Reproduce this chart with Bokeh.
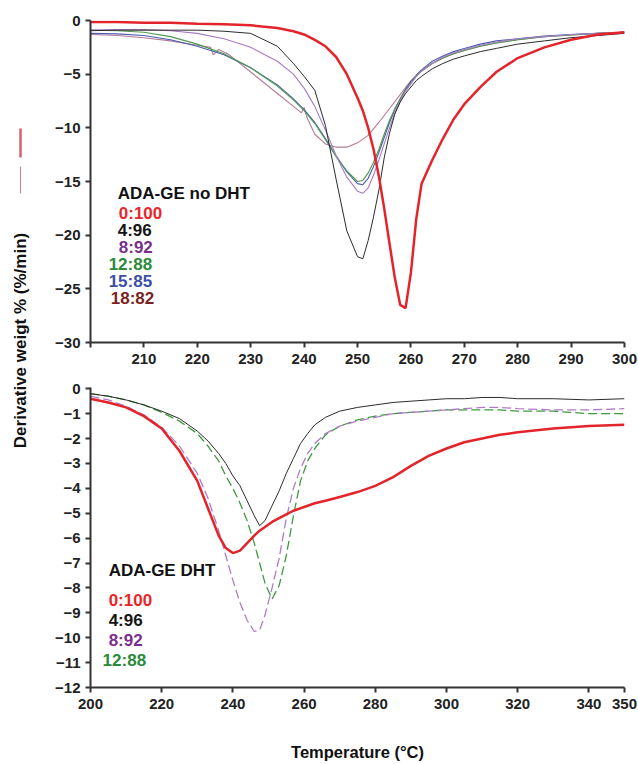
from bokeh.plotting import figure
from bokeh.layouts import row, column
from bokeh.models import FixedTicker, ColumnDataSource, Range1d
from bokeh.core.properties import value
from bokeh.embed import file_html
from bokeh.resources import INLINE

FONT = "Liberation Sans"

# ---------------- data: top panel (ADA-GE no DHT) ----------------
top_T = [200, 205, 210, 215, 220, 225, 230, 235, 238, 240, 242, 244, 246, 248, 250, 251,
         252, 253, 254, 255, 256, 257, 258, 259, 260, 261, 262, 264, 266, 268, 270, 273,
         276, 280, 285, 290, 295, 300]
top_0_100 = [-0.15, -0.15, -0.2, -0.2, -0.3, -0.35, -0.45, -0.7, -1.0, -1.3, -1.8, -2.4, -3.4,
             -5.0, -7.2, -8.4, -10.0, -12.0, -14.5, -17.5, -20.8, -24.0, -26.5, -26.8, -23.5,
             -18.5, -15.2, -13.0, -11.0, -9.2, -7.8, -6.2, -4.8, -3.5, -2.5, -1.8, -1.3, -1.1]
top_4_96 = [-0.95, -0.9, -0.9, -0.9, -0.9, -1.0, -1.2, -2.4, -4.0, -5.2, -6.5, -9.8, -14.8,
            -19.6, -22.0, -22.2, -20.5, -18.3, -15.8, -12.8, -10.5, -8.7, -7.6, -6.8, -6.2,
            -5.6, -5.2, -4.5, -4.0, -3.6, -3.3, -2.9, -2.6, -2.2, -1.9, -1.6, -1.4, -1.2]
top_8_92 = [-0.9, -0.85, -0.85, -0.95, -1.2, -1.7, -2.5, -3.8, -5.0, -6.3, -8.0, -10.2, -12.6,
            -14.6, -15.9, -16.1, -15.6, -14.4, -13.0, -11.5, -10.0, -8.6, -7.5, -6.6, -5.9,
            -5.2, -4.7, -4.0, -3.4, -3.0, -2.7, -2.3, -2.0, -1.7, -1.5, -1.3, -1.2, -1.1]
top_12_88 = [-0.9, -0.95, -1.1, -1.5, -2.2, -3.1, -4.4, -6.1, -7.4, -8.4, -9.6, -11.1, -12.7,
             -14.0, -15.0, -14.9, -14.2, -13.2, -12.0, -10.6, -9.3, -8.2, -7.3, -6.5, -5.8,
             -5.2, -4.7, -4.0, -3.5, -3.1, -2.8, -2.4, -2.1, -1.8, -1.5, -1.35, -1.2, -1.1]
top_15_85 = [-1.2, -1.25, -1.4, -1.8, -2.4, -3.2, -4.4, -6.0, -7.3, -8.3, -9.5, -11.0, -12.6,
             -14.1, -15.2, -15.3, -14.7, -13.6, -12.3, -10.9, -9.5, -8.3, -7.3, -6.4, -5.7,
             -5.1, -4.6, -3.8, -3.3, -2.9, -2.6, -2.2, -1.9, -1.7, -1.45, -1.3, -1.2, -1.1]
top_T_18_82 = [200, 205, 210, 215, 220, 222.5, 223, 224, 226, 230, 235, 238, 239.5, 240, 240.5,
               242, 244, 246, 248, 250, 252, 254, 256, 258, 260, 262, 264, 266, 268, 270, 273,
               276, 280, 285, 290, 295, 300]
top_18_82 = [-1.3, -1.4, -1.6, -1.9, -2.3, -2.5, -3.2, -2.7, -3.2, -4.8, -6.8, -8.0, -8.6, -8.1,
             -9.0, -10.6, -11.5, -11.8, -11.8, -11.4, -10.7, -9.5, -8.2, -6.9, -5.6, -4.7, -4.0,
             -3.5, -3.1, -2.8, -2.4, -2.1, -1.8, -1.5, -1.35, -1.2, -1.1]

top_title = "ADA-GE no DHT"
top_labels = ["0:100", "4:96", "8:92", "12:88", "15:85", "18:82"]

# ---------------- data: bottom panel (ADA-GE DHT) ----------------
bot_T = [200, 205, 210, 215, 220, 225, 230, 233, 236, 238, 240, 242, 244, 246, 247.5, 249,
         251, 253, 255, 257, 259, 261, 263, 266, 270, 275, 280, 285, 290, 295, 300, 305, 310,
         315, 320, 330, 340, 350]
bot_0_100 = [-0.4, -0.55, -0.75, -1.1, -1.6, -2.5, -3.7, -4.8, -5.9, -6.4, -6.6, -6.5, -6.2,
             -5.9, -5.7, -5.55, -5.35, -5.2, -5.05, -4.9, -4.8, -4.7, -4.6, -4.5, -4.35, -4.15,
             -3.9, -3.55, -3.1, -2.7, -2.4, -2.15, -2.0, -1.85, -1.75, -1.6, -1.5, -1.45]
bot_4_96 = [-0.2, -0.3, -0.45, -0.65, -0.9, -1.2, -1.7, -2.1, -2.6, -3.0, -3.5, -3.9, -4.5,
            -5.1, -5.5, -5.3, -4.7, -4.1, -3.4, -2.8, -2.2, -1.8, -1.45, -1.15, -0.9, -0.75,
            -0.65, -0.55, -0.5, -0.45, -0.4, -0.4, -0.35, -0.35, -0.4, -0.4, -0.45, -0.4]
bot_8_92 = [-0.3, -0.45, -0.7, -1.05, -1.55, -2.3, -3.4, -4.4, -5.7, -6.7, -7.7, -8.6, -9.3,
            -9.75, -9.7, -9.1, -8.0, -6.8, -5.2, -4.0, -3.2, -2.6, -2.2, -1.8, -1.5, -1.3,
            -1.15, -1.0, -0.95, -0.9, -0.85, -0.8, -0.75, -0.75, -0.8, -0.85, -0.85, -0.8]
bot_12_88 = [-0.2, -0.3, -0.45, -0.65, -0.95, -1.3, -1.8, -2.3, -2.9, -3.5, -4.0, -4.6, -5.3,
             -6.2, -7.0, -7.8, -8.45, -7.9, -6.7, -5.1, -3.7, -2.9, -2.4, -1.85, -1.5, -1.25,
             -1.1, -1.0, -0.95, -0.9, -0.85, -0.85, -0.85, -0.85, -0.9, -0.9, -1.0, -1.0]

bot_title = "ADA-GE DHT"
bot_labels = ["0:100", "4:96", "8:92", "12:88"]

top_xticks = [200, 210, 220, 230, 240, 250, 260, 270, 280, 290, 300]
top_yticks = [0, -5, -10, -15, -20, -25, -30]
bot_xticks = [200, 220, 240, 260, 280, 300, 320, 340, 350]
bot_yticks = [0, -1, -2, -3, -4, -5, -6, -7, -8, -9, -10, -11, -12]

# ---------------- styles / positions ----------------
RED = "#e3242b"
label_colors_top = ["#e8262a", "#151515", "#7a2f8c", "#2a8a3a", "#3b4fa5", "#7b1f22"]
label_colors_bot = ["#e8262a", "#151515", "#7a2f8c", "#2a8a3a"]
# legend text anchor positions (data coordinates of each panel)
top_title_pos = (205.1, -16.1)
top_label_x = [205.3, 205.1, 205.3, 203.4, 203.4, 203.8]
top_label_y = [-18.0, -19.6, -21.15, -22.7, -24.3, -25.9]
bot_title_pos = (205.1, -7.3)
bot_label_x = [205.1, 205.1, 205.1, 203.4]
bot_label_y = [-8.5, -9.3, -10.1, -10.9]

LW = 42          # width of the shared y-title strip
W = 638 - LW     # width of each panel figure
TOP_H = 377
BOT_H = 386
LEG_SIZE = "17px"


def style(p):
    p.outline_line_color = None
    p.xgrid.visible = False
    p.ygrid.visible = False
    p.background_fill_color = "white"
    p.border_fill_color = "white"
    for ax in p.axis:
        ax.axis_line_color = "#333333"
        ax.axis_line_width = 2
        ax.major_tick_line_color = "#333333"
        ax.major_tick_line_width = 2
        ax.major_tick_out = 5
        ax.major_tick_in = 0
        ax.minor_tick_line_color = None
        ax.major_label_text_font = FONT
        ax.major_label_text_font_style = "bold"
        ax.major_label_text_font_size = "15px"
        ax.major_label_text_color = "#222222"
        ax.axis_label_text_font = FONT
        ax.axis_label_text_font_style = "bold"
        ax.axis_label_text_font_size = "16.5px"
        ax.axis_label_text_color = "#111111"
    p.xaxis.major_label_standoff = 6
    p.yaxis.major_label_standoff = 5


# ---------------- top figure ----------------
top = figure(width=W, height=TOP_H, x_range=Range1d(200, 300), y_range=Range1d(-30, 0),
             output_backend="svg", toolbar_location=None,
             min_border_left=48, min_border_right=14, min_border_top=20, min_border_bottom=35)
style(top)
top.xaxis.ticker = FixedTicker(ticks=top_xticks)
top.xaxis.major_label_overrides = {200: ""}
top.yaxis.ticker = FixedTicker(ticks=top_yticks)

top.line(top_T_18_82, top_18_82, line_color="#b37a95", line_width=1.1)
top.line(top_T, top_15_85, line_color="#4b5bb0", line_width=1.1)
top.line(top_T, top_12_88, line_color="#4f9a4f", line_width=1.1)
top.line(top_T, top_8_92, line_color="#a57cc4", line_width=1.1)
top.line(top_T, top_4_96, line_color="#2b2b2b", line_width=1.0)
top.line(top_T, top_0_100, line_color=RED, line_width=2.5)

top.text(x=[top_title_pos[0]], y=[top_title_pos[1]], text=[top_title],
         text_font=value(FONT), text_font_style="bold", text_font_size=LEG_SIZE,
         text_color="#111111", text_align="left", text_baseline="middle")
src_top = ColumnDataSource(dict(x=top_label_x, y=top_label_y, t=top_labels, c=label_colors_top))
top.text(x="x", y="y", text="t", text_color="c", source=src_top,
         text_font=value(FONT), text_font_style="bold", text_font_size=LEG_SIZE,
         text_align="left", text_baseline="middle")

# ---------------- bottom figure ----------------
bot = figure(width=W, height=BOT_H, x_range=Range1d(200, 350), y_range=Range1d(-12, 0.05),
             output_backend="svg", toolbar_location=None,
             min_border_left=48, min_border_right=14, min_border_top=10, min_border_bottom=76)
style(bot)
bot.xaxis.ticker = FixedTicker(ticks=bot_xticks)
bot.yaxis.ticker = FixedTicker(ticks=bot_yticks)
bot.xaxis.axis_label = "Temperature (°C)"
bot.xaxis.axis_label_standoff = 31

bot.line(bot_T, bot_12_88, line_color="#3f9a3f", line_width=1.3, line_dash="9 4")
bot.line(bot_T, bot_8_92, line_color="#b07cc6", line_width=1.3, line_dash="9 4")
bot.line(bot_T, bot_4_96, line_color="#2b2b2b", line_width=1.0)
bot.line(bot_T, bot_0_100, line_color=RED, line_width=2.5)

bot.text(x=[bot_title_pos[0]], y=[bot_title_pos[1]], text=[bot_title],
         text_font=value(FONT), text_font_style="bold", text_font_size=LEG_SIZE,
         text_color="#111111", text_align="left", text_baseline="middle")
src_bot = ColumnDataSource(dict(x=bot_label_x, y=bot_label_y, t=bot_labels, c=label_colors_bot))
bot.text(x="x", y="y", text="t", text_color="c", source=src_bot,
         text_font=value(FONT), text_font_style="bold", text_font_size=LEG_SIZE,
         text_align="left", text_baseline="middle")

# ---------------- shared y-axis title strip ----------------
H = TOP_H + BOT_H
lab = figure(width=LW, height=H, x_range=Range1d(0, LW), y_range=Range1d(0, H),
             output_backend="svg", toolbar_location=None,
             x_axis_location=None, y_axis_location=None,
             min_border=0, min_border_left=0, min_border_right=0,
             min_border_top=0, min_border_bottom=0)
lab.outline_line_color = None
lab.xgrid.visible = False
lab.ygrid.visible = False
lab.text(x=[20], y=[H - 340], text=["Derivative weigt % (%/min)"], angle=1.5707963,
         text_font=value(FONT), text_font_style="bold", text_font_size="17px",
         text_color="#111111", text_align="center", text_baseline="middle")
# stray key marks at the left edge of the original figure
lab.segment(x0=[20], y0=[H - 128], x1=[20], y1=[H - 157], line_color="#d9606a", line_width=2.5)
lab.segment(x0=[20], y0=[H - 166], x1=[20], y1=[H - 193], line_color="#c08aa5", line_width=1.2)

layout = row(lab, column(top, bot, spacing=0), spacing=0)

open("out.html", "w").write(file_html(layout, INLINE))
